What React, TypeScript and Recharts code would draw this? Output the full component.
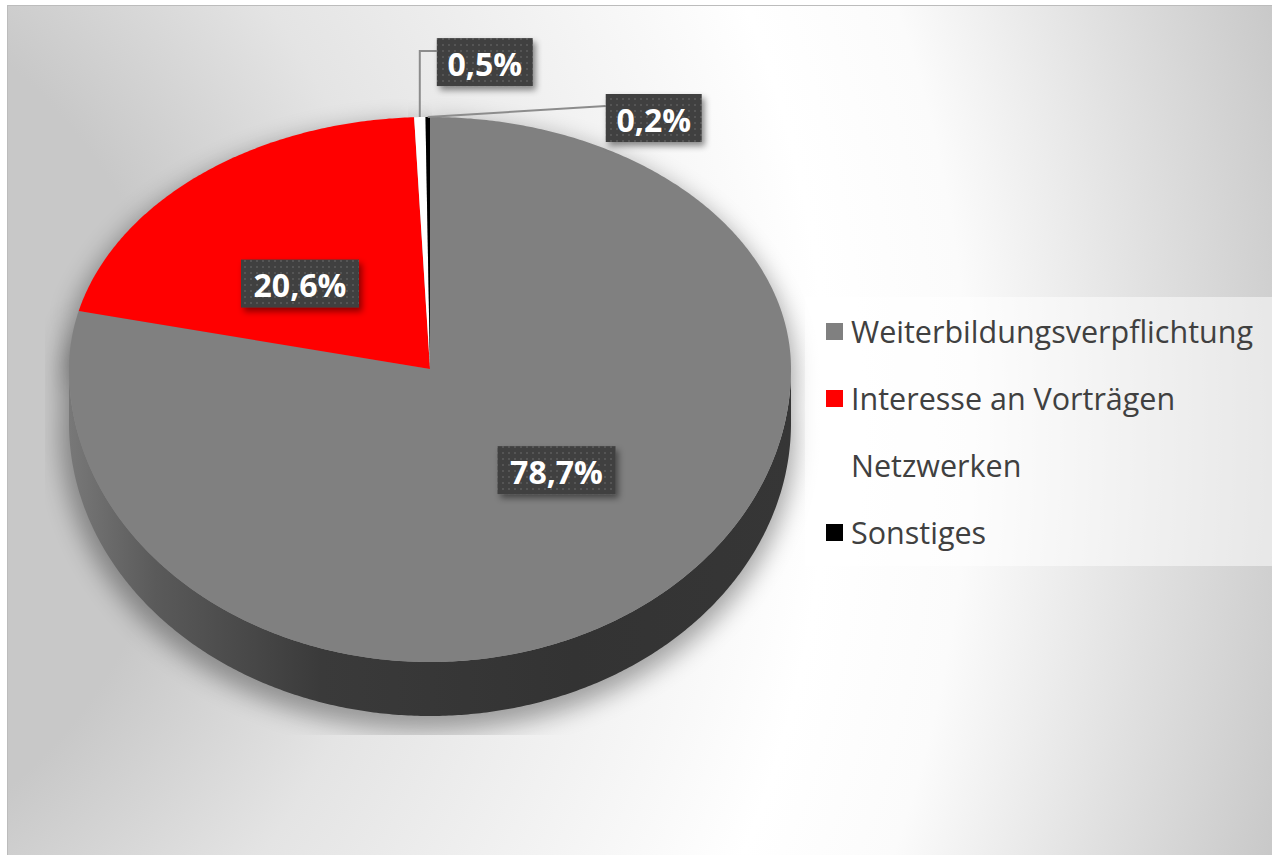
import React from 'react';
import { PieChart, Pie, Cell, Legend } from 'recharts';

// chart values
const categories = ['Weiterbildungsverpflichtung', 'Interesse an Vorträgen', 'Netzwerken', 'Sonstiges'];
const shares = [78.7, 20.6, 0.5, 0.2];
const sliceColors = ['#808080', '#ff0000', '#ffffff', '#000000'];
const sideColors = ['url(#sideGray)', '#9a0000', '#bdbdbd', '#000000'];

const pieData = categories.map((name, i) => ({ name, value: shares[i] }));

// layout
const CHART_W = 1264;
const CHART_H = 849;
const CX = 422;
const CY = 363;
const R = 361;
const K_TOP = 252 / R;
const K_BOT = 293 / R;
const DEPTH = 54;
const RAD = Math.PI / 180;
const FONT = '"Open Sans", "Noto Sans", sans-serif';

// callout offsets for the tiny slices (box centre relative to the rim point)
const calloutOffsets: Record<number, [number, number]> = { 2: [65, -55], 3: [226, 1] };

const pt = (cx: number, cy: number, r: number, deg: number): [number, number] => {
  const s = Math.sin(deg * RAD);
  return [cx + r * Math.cos(deg * RAD), cy - r * s * (s >= 0 ? K_TOP : K_BOT)];
};

const arcPoints = (cx: number, cy: number, r: number, a0: number, a1: number) => {
  const n = Math.max(2, Math.ceil(Math.abs(a1 - a0) / 0.5));
  const pts: [number, number][] = [];
  for (let i = 0; i <= n; i++) pts.push(pt(cx, cy, r, a0 + ((a1 - a0) * i) / n));
  return pts;
};

const toPath = (pts: [number, number][]) =>
  'M' + pts.map((p) => p[0].toFixed(2) + ',' + p[1].toFixed(2)).join('L') + 'Z';

const wedge = (cx: number, cy: number, r: number, s: number, e: number, dy = 0) =>
  toPath([[cx, cy] as [number, number], ...arcPoints(cx, cy, r, s, e)].map(([x, y]) => [x, y + dy] as [number, number]));

// parts of a slice that lie on the front half (visible rim)
const frontRanges = (s: number, e: number) => {
  const lo = Math.min(s, e);
  const hi = Math.max(s, e);
  const out: [number, number][] = [];
  for (let k = -2; k <= 2; k++) {
    const a = Math.max(lo, -180 + 360 * k);
    const b = Math.min(hi, 360 * k);
    if (b > a) out.push([a, b]);
  }
  return out;
};

const sliceIndex = (p: any) => {
  const name = p?.payload?.name ?? p?.name;
  const i = categories.indexOf(name);
  return i >= 0 ? i : p.index ?? 0;
};

const ShadowShape = (p: any) => {
  const { cx, cy, outerRadius: r, startAngle: s, endAngle: e } = p;
  return (
    <g clipPath="url(#plotClip)">
      <g filter="url(#pieBlur)" opacity={0.34} transform="translate(-2 10)">
        <path d={wedge(cx, cy, r + 6, s, e)} fill="#000" />
        <path d={wedge(cx, cy, r + 6, s, e, DEPTH)} fill="#000" />
      </g>
    </g>
  );
};

const SideShape = (p: any) => {
  const { cx, cy, outerRadius: r, startAngle: s, endAngle: e } = p;
  const idx = sliceIndex(p);
  return (
    <g>
      {frontRanges(s, e).map(([a, b], k) => {
        const top = arcPoints(cx, cy, r, a, b);
        const bottom = arcPoints(cx, cy, r, b, a).map(([x, y]) => [x, y + DEPTH] as [number, number]);
        return <path key={k} d={toPath([...top, ...bottom])} fill={sideColors[idx]} />;
      })}
    </g>
  );
};

const TopShape = (p: any) => {
  const { cx, cy, outerRadius: r, startAngle: s, endAngle: e } = p;
  const idx = sliceIndex(p);
  return <path d={wedge(cx, cy, r, s, e)} fill={sliceColors[idx]} />;
};

const fmt = (v: number) => v.toFixed(1).replace('.', ',') + '%';

const LabelBox = ({ x, y, text }: { x: number; y: number; text: string }) => {
  const w = 22 * text.length + 8;
  const h = 48;
  return (
    <g>
      <rect x={x - w / 2} y={y - h / 2} width={w} height={h} fill="url(#dots)" filter="url(#boxShadow)" />
      <text
        x={x}
        y={y + 1}
        textAnchor="middle"
        dominantBaseline="central"
        fill="#ffffff"
        fontFamily={FONT}
        fontWeight={700}
        fontSize={32}
      >
        {text}
      </text>
    </g>
  );
};

const renderLabel = (p: any) => {
  const { cx, cy, outerRadius: r, midAngle } = p;
  const idx = sliceIndex(p);
  const value = shares[idx];
  const text = fmt(value);
  const w = 22 * text.length + 8;
  const h = 48;
  const off = calloutOffsets[idx];
  if (!off) {
    const s = Math.sin(midAngle * RAD);
    const lx = cx + 0.565 * r * Math.cos(midAngle * RAD);
    const ly = cy - 0.44 * r * s * (s >= 0 ? K_TOP : K_BOT);
    return <LabelBox x={lx} y={ly} text={text} />;
  }
  const [ex, ey] = pt(cx, cy, r, midAngle);
  const bx = ex + off[0];
  const by = ey + off[1];
  const left = bx - w / 2;
  const top = by - h / 2;
  const d = off[1] < -20 ? `M${ex},${ey}V${top + 13}H${left}` : `M${ex},${ey}L${left},${top + 12}`;
  return (
    <g>
      <path d={d} stroke="#8c8c8c" strokeWidth={2} fill="none" />
      <LabelBox x={bx} y={by} text={text} />
    </g>
  );
};

const renderLegend = (props: any) => {
  const map = new Map<string, any>();
  (props.payload || []).forEach((e: any) => {
    if (e.type === 'none') return;
    map.set(e.value, e);
  });
  const items = Array.from(map.values()).sort(
    (a: any, b: any) => categories.indexOf(a.value) - categories.indexOf(b.value),
  );
  return (
    <div
      style={{
        width: 467,
        height: 269,
        boxSizing: 'border-box',
        paddingTop: 1,
        background: 'rgba(255,255,255,0.5)',
      }}
    >
      {items.map((e: any) => {
        const idx = categories.indexOf(e.value);
        return (
          <div key={e.value} style={{ height: 67, display: 'flex', alignItems: 'center' }}>
            <span
              style={{
                display: 'inline-block',
                width: 17,
                height: 17,
                marginLeft: 21,
                marginRight: 8,
                background: idx >= 0 ? sliceColors[idx] : e.color,
              }}
            />
            <span style={{ fontFamily: FONT, fontSize: 30.5, color: '#404040', lineHeight: 1, whiteSpace: 'nowrap' }}>
              {e.value}
            </span>
          </div>
        );
      })}
    </div>
  );
};

export default function App() {
  return (
    <div
      style={{
        position: 'absolute',
        left: 7,
        top: 5,
        width: CHART_W,
        height: CHART_H,
        border: '1px solid #bcbcbc',
        background:
          'radial-gradient(circle at -300px 420px, #c8c8c8 470px, #e4e4e4 700px, #ffffff 1120px, #fbfbfb 1260px, #e0e0e0 1450px, #c6c6c6 1640px)',
      }}
    >
      <PieChart width={CHART_W} height={CHART_H} margin={{ top: 0, right: 0, bottom: 0, left: 0 }}>
        <defs>
          <linearGradient id="sideGray" gradientUnits="userSpaceOnUse" x1={CX - R} y1={0} x2={CX + R} y2={0}>
            <stop offset="0%" stopColor="#787878" />
            <stop offset="12%" stopColor="#5a5a5a" />
            <stop offset="35%" stopColor="#3a3a3a" />
            <stop offset="70%" stopColor="#333333" />
            <stop offset="100%" stopColor="#363636" />
          </linearGradient>
          <pattern id="dots" width={6} height={6} patternUnits="userSpaceOnUse">
            <rect width={6} height={6} fill="#404040" />
            <rect x={2} y={2} width={2} height={2} fill="#545454" />
          </pattern>
          <filter id="boxShadow" x="-20%" y="-30%" width="150%" height="180%">
            <feDropShadow dx={3} dy={4} stdDeviation={3} floodColor="#000" floodOpacity={0.45} />
          </filter>
          <filter id="pieBlur" x="-20%" y="-20%" width="140%" height="140%">
            <feGaussianBlur stdDeviation={12} />
          </filter>
          <clipPath id="plotClip">
            <rect x={37} y={0} width={1000} height={729} />
          </clipPath>
        </defs>
        <Pie
          data={pieData}
          dataKey="value"
          nameKey="name"
          cx={CX}
          cy={CY}
          outerRadius={R}
          startAngle={90}
          endAngle={-270}
          legendType="none"
          shape={ShadowShape}
          isAnimationActive={false}
        />
        <Pie
          data={pieData}
          dataKey="value"
          nameKey="name"
          cx={CX}
          cy={CY}
          outerRadius={R}
          startAngle={90}
          endAngle={-270}
          legendType="none"
          shape={SideShape}
          isAnimationActive={false}
        />
        <Pie
          data={pieData}
          dataKey="value"
          nameKey="name"
          cx={CX}
          cy={CY}
          outerRadius={R}
          startAngle={90}
          endAngle={-270}
          stroke="none"
          shape={TopShape}
          label={renderLabel}
          labelLine={false}
          isAnimationActive={false}
        >
          {pieData.map((d, i) => (
            <Cell key={d.name} fill={sliceColors[i]} />
          ))}
        </Pie>
        <Legend content={renderLegend} wrapperStyle={{ left: 797, top: 291, width: 467, height: 269 }} />
      </PieChart>
    </div>
  );
}
